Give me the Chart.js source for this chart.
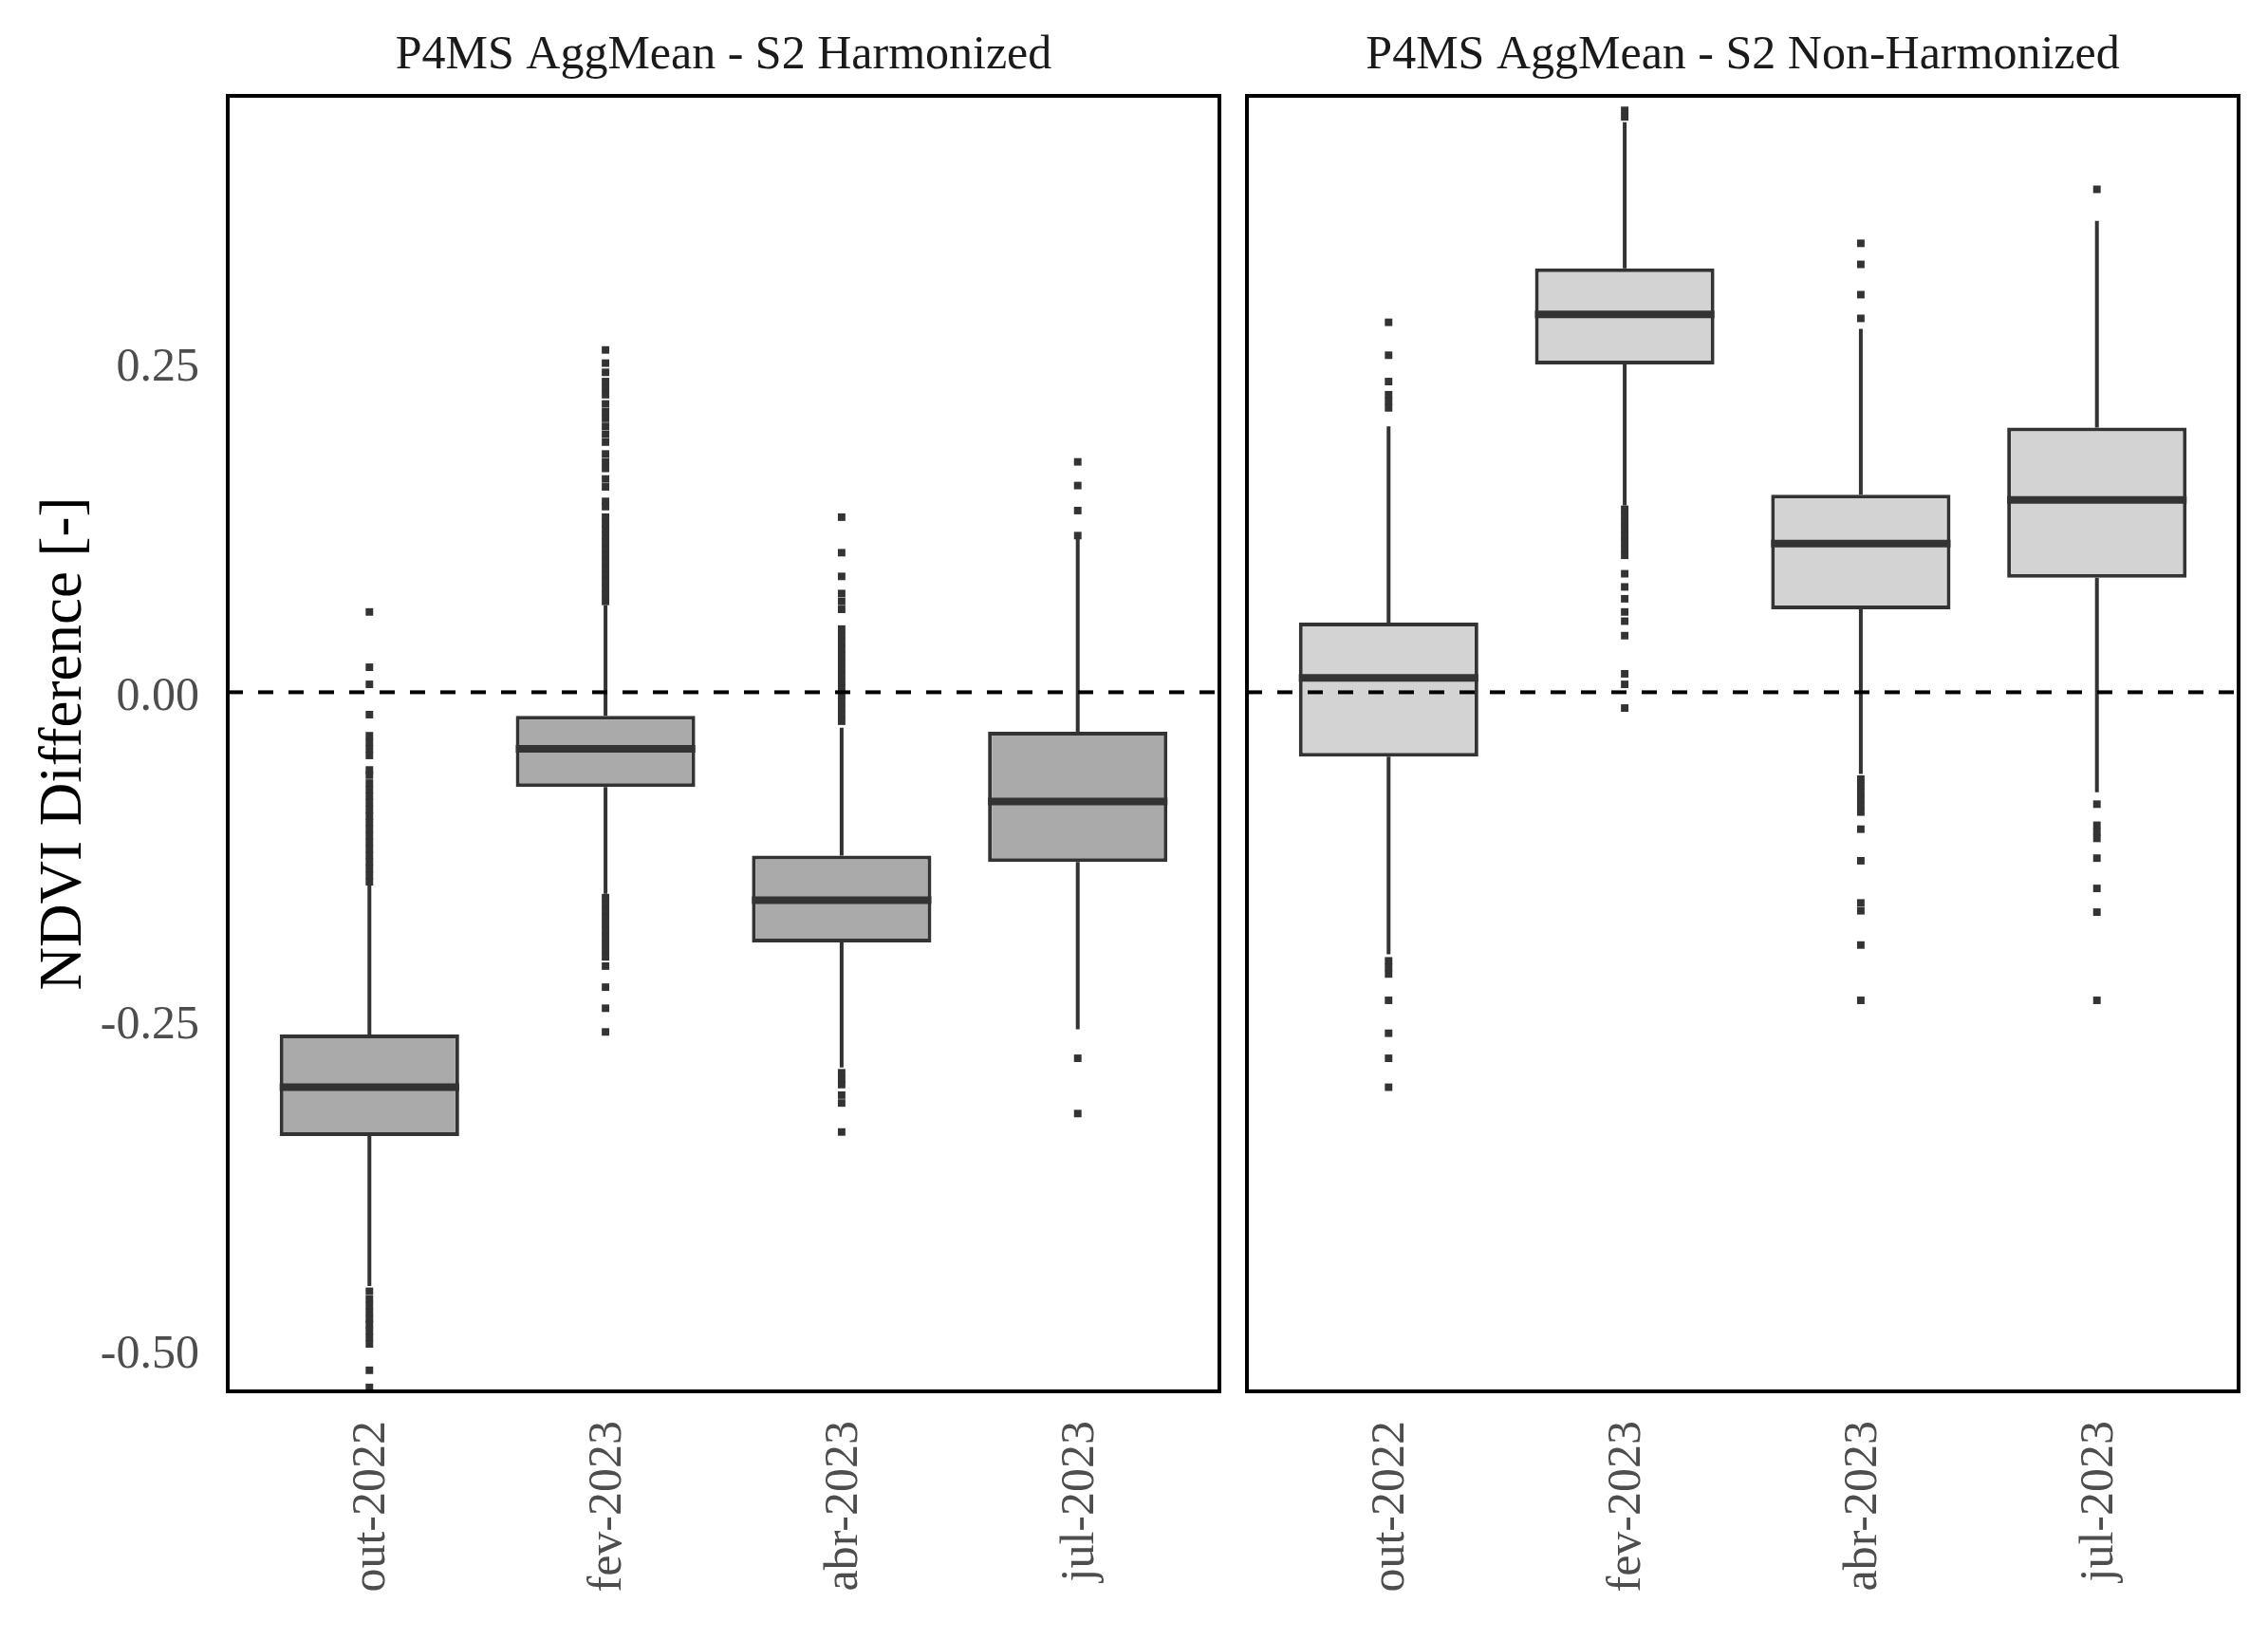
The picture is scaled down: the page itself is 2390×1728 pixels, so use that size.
<!DOCTYPE html>
<html>
<head>
<meta charset="utf-8">
<title>NDVI Difference - P4MS AggMean vs S2</title>
<script src="https://cdn.jsdelivr.net/npm/chart.js@4.4.0/dist/chart.umd.min.js"></script>
<style>
  html, body { margin: 0; padding: 0; background: #fff; }
  #wrap { position: relative; width: 2390px; height: 1728px; }
  .panel { position: absolute; top: 0; height: 1728px; }
  #left-panel { left: 0; width: 1300px; }
  #right-panel { left: 1300px; width: 1090px; }
</style>
</head>
<body>
<div id="wrap">
  <div class="panel" id="left-panel"><canvas id="chart-left" width="1300" height="1728"></canvas></div>
  <div class="panel" id="right-panel"><canvas id="chart-right" width="1090" height="1728"></canvas></div>
</div>
<script>
const categories = ["out-2022", "fev-2023", "abr-2023", "jul-2023"];
const categoryPos = [1, 2, 3, 4];
const yTicks = [-0.5, -0.25, 0, 0.25];

// S2 Harmonized
const harmWhiskerLow = [-0.451, -0.153, -0.285, -0.256];
const harmQ1 = [-0.337, -0.072, -0.190, -0.129];
const harmMedian = [-0.300, -0.043, -0.158, -0.083];
const harmQ3 = [-0.260, -0.018, -0.124, -0.030];
const harmWhiskerHigh = [-0.146, 0.066, -0.027, 0.117];
const harmOutliers = [
  [0.061, 0.019, 0.006, -0.017, -0.033, -0.038, -0.043, -0.048, -0.059, -0.063,
   -0.069, -0.074, -0.079, -0.084, -0.089, -0.094, -0.099, -0.104, -0.109, -0.114,
   -0.119, -0.124, -0.129, -0.134, -0.139, -0.144,
   -0.455, -0.461, -0.466, -0.471, -0.476, -0.480, -0.485, -0.490, -0.495, -0.515, -0.528],
  [0.260, 0.250, 0.243, 0.236, 0.231, 0.226, 0.219, 0.213, 0.208, 0.202, 0.196, 0.190,
   0.181, 0.175, 0.170, 0.162, 0.156, 0.145, 0.141, 0.133, 0.128, 0.124, 0.119, 0.114,
   0.109, 0.104, 0.099, 0.094, 0.089, 0.084, 0.079, 0.074, 0.069,
   -0.156, -0.161, -0.166, -0.171, -0.176, -0.181, -0.186, -0.191, -0.196, -0.201,
   -0.208, -0.224, -0.240, -0.258],
  [0.133, 0.106, 0.088, 0.075, 0.069, 0.063, 0.048, 0.043, 0.038, 0.033, 0.028, 0.023,
   0.018, 0.013, 0.008, 0.003, -0.002, -0.007, -0.012, -0.017, -0.022,
   -0.289, -0.294, -0.298, -0.306, -0.312, -0.334],
  [0.175, 0.157, 0.138, 0.119, -0.278, -0.320],
];

// S2 Non-Harmonized
const nonWhiskerLow = [-0.199, 0.142, -0.062, -0.076];
const nonQ1 = [-0.049, 0.249, 0.063, 0.087];
const nonMedian = [0.011, 0.287, 0.113, 0.146];
const nonQ3 = [0.053, 0.322, 0.150, 0.201];
const nonWhiskerHigh = [0.202, 0.433, 0.276, 0.358];
const nonOutliers = [
  [0.281, 0.256, 0.236, 0.226, 0.221, 0.216, -0.204, -0.209, -0.214, -0.234, -0.259, -0.278, -0.300],
  [0.442, 0.437, 0.139, 0.134, 0.129, 0.124, 0.119, 0.114, 0.109, 0.104, 0.090, 0.080,
   0.071, 0.061, 0.054, 0.043, 0.014, 0.006, -0.012],
  [0.341, 0.325, 0.302, 0.284, -0.066, -0.071, -0.076, -0.081, -0.086, -0.091,
   -0.104, -0.128, -0.160, -0.166, -0.192, -0.234],
  [0.382, -0.085, -0.101, -0.106, -0.111, -0.126, -0.149, -0.167, -0.234],
];

const Y_MIN = -0.531;
const Y_MAX = 0.453;
const X_MIN = 0.4;
const X_MAX = 4.6;

const LINE_COLOR = "#333333";
const TICK_COLOR = "#4d4d4d";

Chart.defaults.font.family = "'Liberation Serif', 'Times New Roman', serif";
Chart.defaults.animation = false;

// whiskers, medians, the zero line and the panel frame, all through the chart scales
function makeBoxPlugin(stats) {
  return {
    id: "boxExtras",
    beforeDatasetsDraw(chart) {
      const meta = chart.getDatasetMeta(0);
      const y = chart.scales.y;
      const ctx = chart.ctx;
      ctx.save();
      ctx.strokeStyle = LINE_COLOR;
      ctx.lineWidth = 4;
      meta.data.forEach((bar, i) => {
        ctx.beginPath();
        ctx.moveTo(bar.x, y.getPixelForValue(stats.high[i]));
        ctx.lineTo(bar.x, y.getPixelForValue(stats.q3[i]));
        ctx.moveTo(bar.x, y.getPixelForValue(stats.q1[i]));
        ctx.lineTo(bar.x, y.getPixelForValue(stats.low[i]));
        ctx.stroke();
      });
      ctx.restore();
    },
    afterDatasetsDraw(chart) {
      const meta = chart.getDatasetMeta(0);
      const y = chart.scales.y;
      const area = chart.chartArea;
      const ctx = chart.ctx;
      ctx.save();
      ctx.strokeStyle = LINE_COLOR;
      ctx.lineWidth = 8;
      meta.data.forEach((bar, i) => {
        const py = y.getPixelForValue(stats.median[i]);
        ctx.beginPath();
        ctx.moveTo(bar.x - bar.width / 2, py);
        ctx.lineTo(bar.x + bar.width / 2, py);
        ctx.stroke();
      });
      const zero = y.getPixelForValue(0);
      ctx.strokeStyle = "#000000";
      ctx.lineWidth = 4;
      ctx.setLineDash([16, 16]);
      ctx.beginPath();
      ctx.moveTo(area.left, zero);
      ctx.lineTo(area.right, zero);
      ctx.stroke();
      ctx.restore();
    },
    afterDraw(chart) {
      const a = chart.chartArea;
      const ctx = chart.ctx;
      ctx.save();
      ctx.strokeStyle = "#000000";
      ctx.lineWidth = 4;
      ctx.strokeRect(a.left, a.top, a.right - a.left, a.bottom - a.top);
      ctx.restore();
    },
  };
}

function buildChart(canvasId, opts) {
  const boxes = categoryPos.map((x, i) => ({ x: x, y: [opts.q1[i], opts.q3[i]] }));
  const points = [];
  opts.outliers.forEach((list, i) => {
    list.forEach((v) => points.push({ x: categoryPos[i], y: v }));
  });

  return new Chart(document.getElementById(canvasId), {
    type: "bar",
    data: {
      datasets: [
        {
          data: boxes,
          backgroundColor: opts.fill,
          borderColor: LINE_COLOR,
          borderWidth: 4,
          borderSkipped: false,
          barPercentage: 0.76,
          categoryPercentage: 1,
        },
        {
          type: "scatter",
          data: points,
          pointStyle: "rect",
          pointRadius: 5.6,
          pointBackgroundColor: LINE_COLOR,
          pointBorderWidth: 0,
        },
      ],
    },
    options: {
      responsive: false,
      events: [],
      layout: { padding: opts.padding },
      plugins: {
        legend: { display: false },
        tooltip: { enabled: false },
        title: {
          display: true,
          fullSize: false,
          text: opts.title,
          color: "#1a1a1a",
          font: { size: 50, weight: "normal" },
          padding: { top: 29, bottom: 12 },
        },
      },
      scales: {
        x: {
          type: "linear",
          min: X_MIN,
          max: X_MAX,
          offset: false,
          grid: { display: false, drawTicks: false, offset: false },
          border: { display: false },
          afterBuildTicks: (s) => {
            s.ticks = categoryPos.map((v) => ({ value: v }));
          },
          afterFit: (s) => {
            s.height = 262;
          },
          ticks: {
            autoSkip: false,
            minRotation: 90,
            maxRotation: 90,
            padding: 31,
            labelOffset: 3,
            color: TICK_COLOR,
            font: { size: 50 },
            callback: (value, index) => categories[index],
          },
        },
        y: {
          type: "linear",
          min: Y_MIN,
          max: Y_MAX,
          display: opts.showY,
          grid: { display: false, drawTicks: false },
          border: { display: false },
          afterBuildTicks: (s) => {
            s.ticks = yTicks.map((v) => ({ value: v }));
          },
          afterFit: (s) => {
            s.width = opts.showY ? 240 : 0;
          },
          ticks: {
            padding: 30,
            labelOffset: 5,
            color: TICK_COLOR,
            font: { size: 50 },
            callback: (value) => Number(value).toFixed(2),
          },
          title: {
            display: true,
            text: "NDVI Difference [-]",
            color: "#000000",
            font: { size: 63 },
            padding: { top: 31, bottom: 0 },
          },
        },
      },
    },
    plugins: [
      makeBoxPlugin({
        low: opts.low,
        q1: opts.q1,
        median: opts.median,
        q3: opts.q3,
        high: opts.high,
      }),
    ],
  });
}

buildChart("chart-left", {
  title: "P4MS AggMean - S2 Harmonized",
  fill: "#aaaaaa",
  showY: true,
  padding: { left: 0, right: 15, top: 0, bottom: 0 },
  low: harmWhiskerLow,
  q1: harmQ1,
  median: harmMedian,
  q3: harmQ3,
  high: harmWhiskerHigh,
  outliers: harmOutliers,
});

buildChart("chart-right", {
  title: "P4MS AggMean - S2 Non-Harmonized",
  fill: "#d3d3d3",
  showY: false,
  padding: { left: 14, right: 31, top: 0, bottom: 0 },
  low: nonWhiskerLow,
  q1: nonQ1,
  median: nonMedian,
  q3: nonQ3,
  high: nonWhiskerHigh,
  outliers: nonOutliers,
});
</script>
</body>
</html>
